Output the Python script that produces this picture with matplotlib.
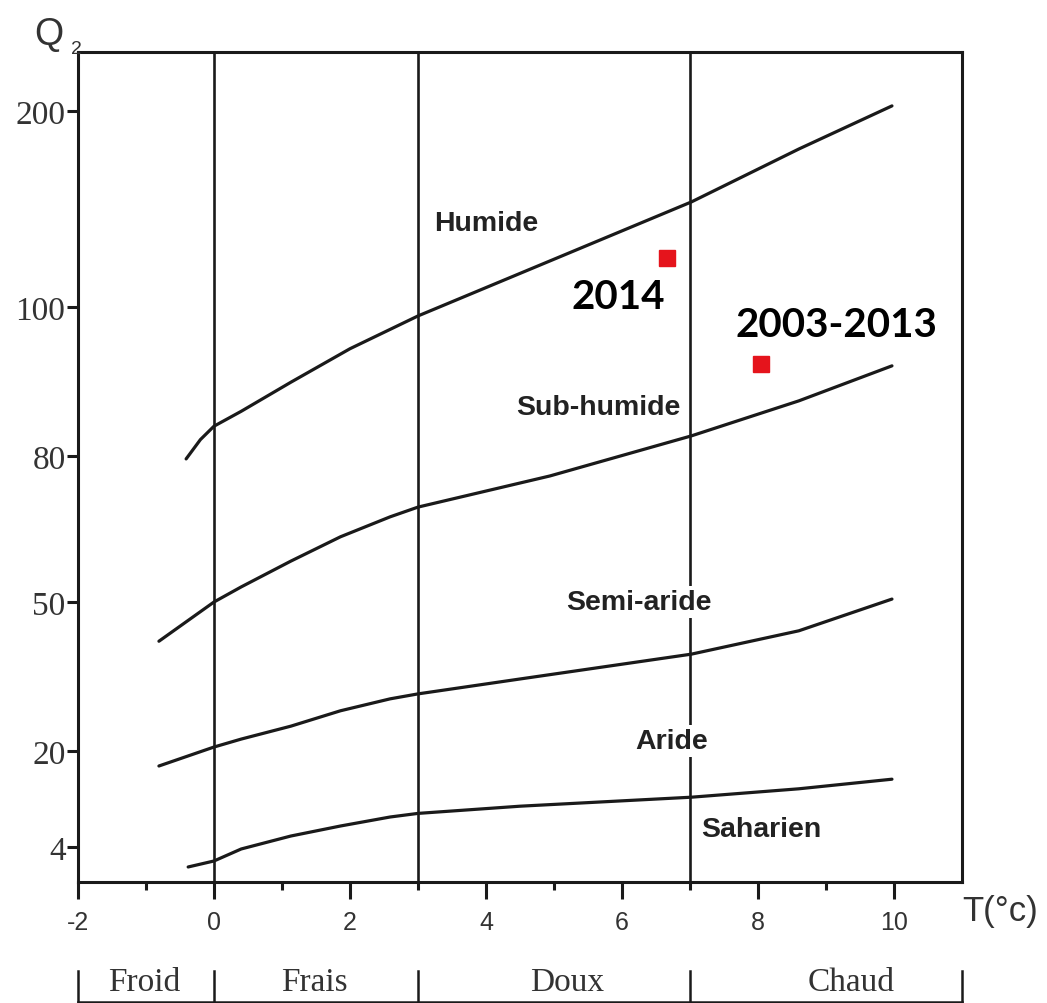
import numpy as np
import matplotlib
matplotlib.use("Agg")
import matplotlib.pyplot as plt
import matplotlib.transforms as mtransforms

# ---------------- data ----------------
# Emberger climagram boundaries (T in °C, Q2)
hum_T = [-0.41, -0.2, 0.0, 0.40, 1.13, 2.0, 3.0, 4.94, 7.02, 8.6, 9.97]
hum_Q = [79.4, 82.2, 84.0, 86.0, 89.9, 94.4, 98.8, 123.5, 153.6, 180.6, 202.6]

sub_T = [-0.81, 0.0, 0.40, 1.13, 1.86, 2.59, 3.0, 4.94, 7.02, 8.6, 9.97]
sub_Q = [42.1, 50.0, 53.1, 58.4, 63.4, 67.5, 69.5, 75.9, 82.7, 87.4, 92.1]

semi_T = [-0.81, 0.0, 0.40, 1.13, 1.86, 2.59, 3.0, 4.5, 7.02, 8.6, 9.97]
semi_Q = [17.5, 20.8, 22.4, 25.0, 28.1, 30.5, 31.5, 34.5, 39.5, 44.2, 50.6]

ari_T = [-0.38, 0.0, 0.40, 1.13, 1.86, 2.59, 3.0, 4.5, 7.02, 8.6, 9.97]
ari_Q = [0.67, 1.67, 3.67, 5.83, 7.5, 9.0, 9.6, 10.8, 12.3, 13.7, 15.3]

station_T = [6.66, 8.05]
station_Q = [125.0, 92.3]
station_labels = ["2014", "2003-2013"]
label_T = [5.94, 9.16]
label_Q = [105.6, 97.7]

zone_names = ["Humide", "Sub-humide", "Semi-aride", "Aride", "Saharien"]
zone_T = [4.0, 5.65, 6.25, 6.73, 8.05]
zone_Q = [143.0, 86.6, 50.0, 22.0, 7.0]

thermal_bounds = [-2, 0, 3, 7, 11]
thermal_names = ["Froid", "Frais", "Doux", "Chaud"]
thermal_pos = [-1.03, 1.47, 5.2, 9.37]

x_ticks = [-2, 0, 2, 4, 6, 8, 10]
y_ticks = [4, 20, 50, 80, 100, 200]

# Non-linear Q2 axis of the original diagram (scale definition)
scale_Q = [-10, 4, 20, 50, 80, 100, 200, 400]
scale_P = [-49, 35, 131, 280, 426, 575, 771, 1163]


def fwd(q):
    return np.interp(q, scale_Q, scale_P)


def inv(p):
    return np.interp(p, scale_P, scale_Q)


# ---------------- figure ----------------
W, H = 1047, 1004
fig = plt.figure(figsize=(W / 100, H / 100), dpi=100)
ax = fig.add_axes([78 / W, 1 - 883 / H, (962 - 78) / W, (883 - 53) / H])
ax.set_yscale("function", functions=(fwd, inv))
ax.set_xlim(-2, 11)
ax.set_ylim(inv(0), inv(830))

ink = "#1a1a1a"
for s in ax.spines.values():
    s.set_linewidth(2.2)
    s.set_color(ink)

for T in [0, 3, 7]:
    ax.axvline(T, color=ink, lw=1.9, zorder=1)

for Tx, Qy in [(hum_T, hum_Q), (sub_T, sub_Q), (semi_T, semi_Q), (ari_T, ari_Q)]:
    ax.plot(Tx, Qy, color=ink, lw=2.3, solid_capstyle="round",
            solid_joinstyle="round", zorder=2)

ax.plot(station_T, station_Q, ls="none", marker="s", ms=11, color="#e5141c",
        mec="#e5141c", zorder=4)

for lab, T, Q in zip(station_labels, label_T, label_Q):
    ax.text(T, Q, lab, ha="center", va="center", fontsize=29, fontweight="bold",
            family="Lato", color="#000000", zorder=5)

for name, T, Q in zip(zone_names, zone_T, zone_Q):
    ax.text(T, Q, name, ha="center", va="center", fontsize=20.5, fontweight="bold",
            family="Liberation Sans", color="#222222", zorder=3,
            bbox=dict(boxstyle="square,pad=0.1", fc="white", ec="none"))

# ticks
ax.set_xticks(x_ticks)
ax.set_xticklabels([str(v) for v in x_ticks], family="Liberation Sans",
                   fontsize=18, color="#333333")
ax.set_xticks(np.arange(-1, 11, 2), minor=True)
ax.tick_params(axis="x", which="major", length=12, width=2.2, direction="out",
               pad=8, color=ink)
ax.tick_params(axis="x", which="minor", length=6, width=2.2, direction="out",
               color=ink)
ax.set_yticks(y_ticks)
ax.set_yticklabels([str(v) for v in y_ticks], family="Liberation Serif",
                   fontsize=24, color="#333333")
ax.yaxis.set_minor_locator(matplotlib.ticker.NullLocator())
ax.tick_params(axis="y", which="major", length=8, width=2.2, direction="out",
               pad=1, color=ink)

# axis titles
fig.text(49 / W, 1 - 35 / H, "Q", ha="center", va="center", fontsize=27,
         family="Liberation Sans", color="#333333")
fig.text(76 / W, 1 - 50 / H, "2", ha="center", va="center", fontsize=14,
         family="Liberation Sans", color="#333333")
fig.text(962 / W, 1 - 912 / H, "T(°c)", ha="left", va="center", fontsize=25,
         family="Liberation Sans", color="#333333")

# thermal classes under the axis
btr = mtransforms.blended_transform_factory(ax.transData, fig.transFigure)
for b in thermal_bounds:
    ax.plot([b, b], [1 - 972 / H, 0], color=ink, lw=1.8, transform=btr,
            clip_on=False)
ax.plot([thermal_bounds[0], thermal_bounds[-1]], [0.0008, 0.0008], color=ink,
        lw=1.8, transform=btr, clip_on=False)
for name, T in zip(thermal_names, thermal_pos):
    ax.text(T, 1 - 983 / H, name, ha="center", va="center", fontsize=24,
            family="Liberation Serif", color="#333333", transform=btr)

fig.savefig("out.png", dpi=100, facecolor="white")
